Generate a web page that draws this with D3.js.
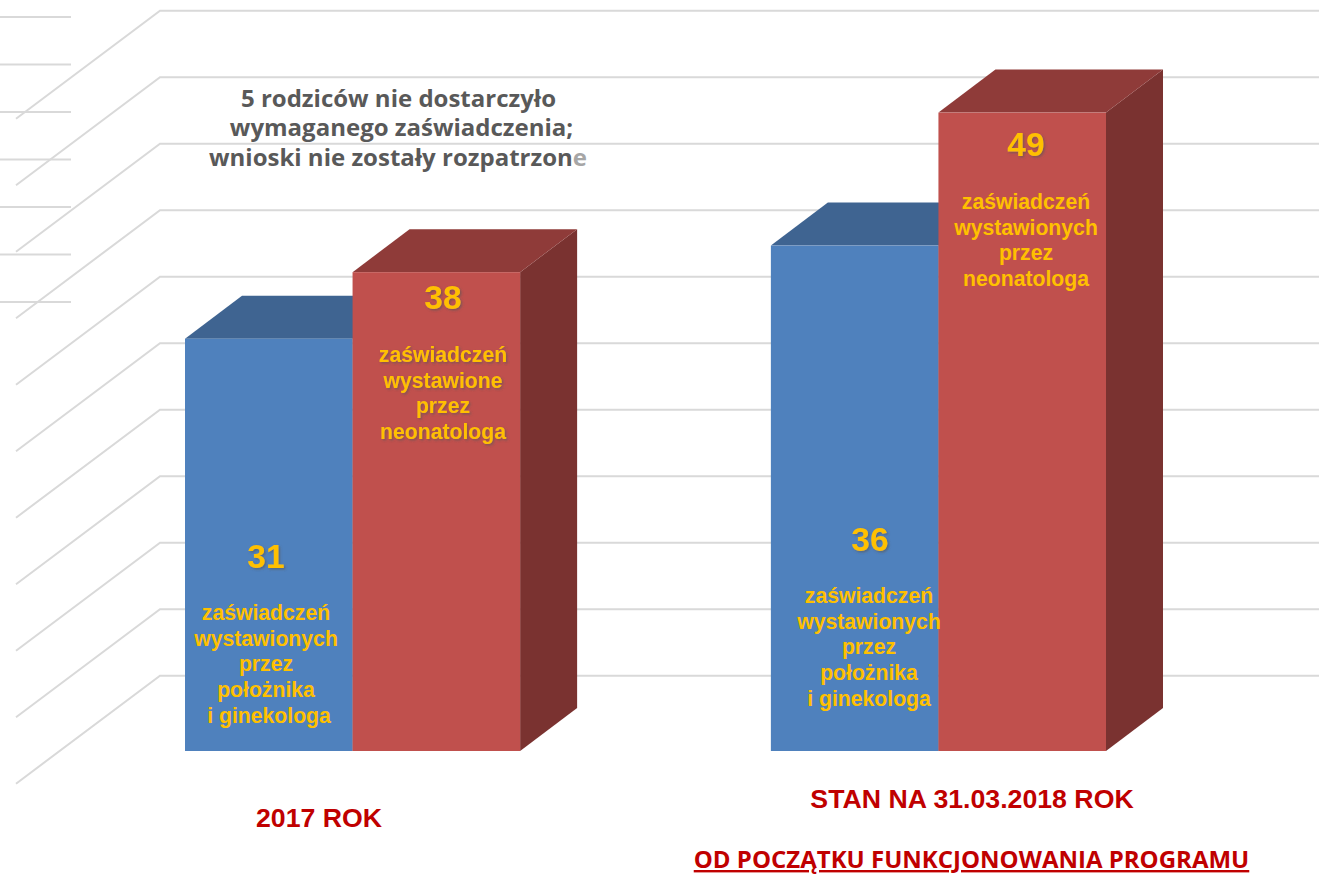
<!DOCTYPE html>
<html><head><meta charset="utf-8">
<style>html,body{margin:0;padding:0;background:#fff;overflow:hidden}svg{display:block}</style>
<script src="https://cdn.jsdelivr.net/npm/d3@7"></script></head>
<body><svg id="c" width="1319" height="875"></svg>
<script>
const categories = ["2017 ROK", "STAN NA 31.03.2018 ROK"];
const seriesNames = ["położnik", "neonatolog"];
// heights as drawn against the gridlines (the picture's bars do not follow their printed labels exactly)
const blueHeights = [31, 38];
const redHeights = [36, 48];
const blueLabels = ["31", "36"];
const redLabels = ["38", "49"];
const blueNotes = [
  ["zaświadczeń", "wystawionych", "przez", "położnika", "i ginekologa"],
  ["zaświadczeń", "wystawionych", "przez", "położnika", "i ginekologa"]
];
const redNotes = [
  ["zaświadczeń", "wystawione", "przez", "neonatologa"],
  ["zaświadczeń", "wystawionych", "przez", "neonatologa"]
];
const noteLines = ["5 rodziców nie dostarczyło", "wymaganego zaświadczenia;", "wnioski nie zostały rozpatrzon"];
const footer = "OD POCZĄTKU FUNKCJONOWANIA PROGRAMU";
const yTicks = [0, 5, 10, 15, 20, 25, 30, 35, 40, 45, 50];
const strayRows = [0, 1, 2, 3, 4, 5, 6];

const svg = d3.select("#c");
const y = d3.scaleLinear().domain([0, 50]).range([751, 86]);
const x0 = d3.scaleBand().domain(categories).range([185, 1106]).paddingInner(0.428);
const x1 = d3.scaleBand().domain(seriesNames).range([0, x0.bandwidth()]);
const depth = {dx: 57, dy: -43};
const wall = {x: 160, dy: -75.3};
const floor = {x: 16, dy: 108};
const stray = d3.scaleLinear().domain([0, 6]).range([17, 302]);

const grid = svg.append("g").attr("stroke", "#d9d9d9").attr("stroke-width", 2).attr("fill", "none");
grid.selectAll("path.g").data(yTicks).join("path").attr("class", "g")
  .attr("d", d => { const b = y(d) + wall.dy; return `M${floor.x},${b + floor.dy}L${wall.x},${b}L1319,${b}`; });
grid.selectAll("line.s").data(strayRows).join("line").attr("class", "s")
  .attr("x1", 0).attr("x2", 71).attr("y1", stray).attr("y2", stray);

const colors = {
  "położnik": {front: "#4f81bd", top: "#3f6491", side: "#3a5d87"},
  "neonatolog": {front: "#c0504d", top: "#8f3b39", side: "#7a3230"}
};
const rows = [];
seriesNames.forEach((s, si) => categories.forEach((c, ci) => rows.push({
  s, c, v: (si ? redHeights : blueHeights)[ci],
  label: (si ? redLabels : blueLabels)[ci],
  notes: (si ? redNotes : blueNotes)[ci], si, ci
})));
const bars = svg.append("g").selectAll("g").data(rows).join("g");
bars.each(function(d) {
  const g = d3.select(this), l = x0(d.c) + x1(d.s), r = l + x1.bandwidth(), t = y(d.v), b = y(0), col = colors[d.s];
  g.append("path").attr("fill", col.side).attr("d", `M${r},${t}L${r + depth.dx},${t + depth.dy}L${r + depth.dx},${b + depth.dy}L${r},${b}Z`);
  g.append("path").attr("fill", col.top).attr("d", `M${l},${t}L${l + depth.dx},${t + depth.dy}L${r + depth.dx},${t + depth.dy}L${r},${t}Z`);
  g.append("rect").attr("x", l).attr("y", t).attr("width", r - l).attr("height", b - t).attr("fill", col.front);
});

const defs = svg.append("defs");
const f1 = defs.append("filter").attr("id", "sh").attr("x", "-20%").attr("y", "-20%").attr("width", "150%").attr("height", "150%");
f1.append("feDropShadow").attr("dx", 1.5).attr("dy", 1.5).attr("stdDeviation", 1).attr("flood-color", "#555").attr("flood-opacity", 0.6);

const sans = "'Liberation Sans', Arial, sans-serif", open = "'Open Sans', sans-serif";
const labelPos = {"0-0": [266, 568], "0-1": [870, 551], "1-0": [443, 309], "1-1": [1026, 156]};
const notePos = {"0-0": [266, 620], "1-0": [443, 362], "0-1": [869, 603], "1-1": [1026, 209]};
const tg = svg.append("g").attr("text-anchor", "middle").attr("fill", "#ffc000").attr("font-family", sans).attr("font-weight", "bold");
rows.forEach(d => {
  const key = d.si + "-" + d.ci, p = labelPos[key], n = notePos[key];
  tg.append("text").attr("x", p[0]).attr("y", p[1]).attr("font-size", 33.5).attr("filter", "url(#sh)").text(d.label);
  d.notes.forEach((line, i) => {
    const nudge = key === "0-0" && i === 4 ? 3 : 0;
    const t = tg.append("text").attr("x", n[0] + nudge).attr("y", n[1] + i * 25.7).attr("font-size", 21.2).text(line);
    if (key === "1-0") t.attr("filter", "url(#sh)");
  });
});

const nt = svg.append("g").attr("text-anchor", "middle").attr("fill", "#595959").attr("font-family", open).attr("font-weight", "bold").attr("font-size", 24);
const noteX = [398.5, 401.5, 398], noteY = [107, 136, 166];
noteLines.forEach((line, i) => {
  const t = nt.append("text").attr("x", noteX[i]).attr("y", noteY[i]).text(line);
  if (i === 2) t.append("tspan").attr("fill", "#a6a6a6").text("e");
});

const catX = [319, 972], catY = [827, 808];
svg.append("g").attr("text-anchor", "middle").attr("fill", "#c00000").attr("font-family", sans).attr("font-weight", "bold").attr("font-size", 26.7)
  .selectAll("text").data(categories).join("text").attr("x", (d, i) => catX[i]).attr("y", (d, i) => catY[i]).text(d => d);
svg.append("text").attr("x", 971.5).attr("y", 868).attr("text-anchor", "middle").attr("fill", "#c00000")
  .attr("font-family", open).attr("font-weight", "bold").attr("font-size", 24).attr("text-decoration", "underline").text(footer);
</script></body></html>
